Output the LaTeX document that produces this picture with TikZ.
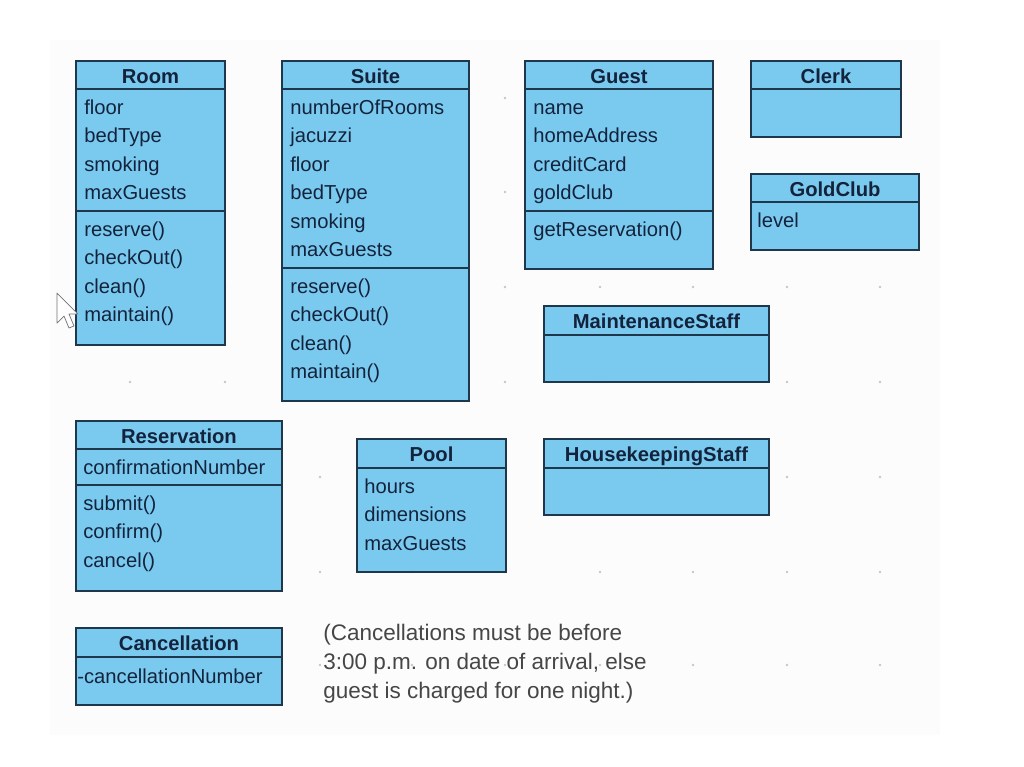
\documentclass[tikz,border=0pt]{standalone}
\usepackage{fontspec}
\setmainfont{Liberation Sans}
\begin{document}
\begin{tikzpicture}[x=0.2mm,y=-0.2mm]
			\definecolor{clsfill}{RGB}{122, 202, 240}
			\definecolor{clsline}{RGB}{30, 55, 75}
			\definecolor{clstext}{RGB}{20, 35, 60}
			\definecolor{notetext}{RGB}{70, 70, 70}
			\tikzset{
				cls/.style={draw=clsline, fill=clsfill, line width=1.1pt},
				sep/.style={draw=clsline, line width=1.1pt},
				ttl/.style={anchor=base, inner sep=0pt, text=clstext, font=\fontsize{11.5}{14}\selectfont\bfseries},
				item/.style={anchor=base west, inner sep=0pt, text=clstext, font=\fontsize{11.5}{14}\selectfont},
			}
			\useasboundingbox (0,0) rectangle (1024,767);
			\fill[black!1] (50,40) rectangle (940,735);
			% grid dots
			\foreach \gx in {130,225,320,412,505,600,693,787,880}
				\foreach \gy in {98,192,287,382,477,572,665}
					\fill[black!22] (\gx,\gy) circle (1.3);
			% Room
			\draw[cls] (76,61) rectangle (225,345);
			\draw[sep] (76,89) -- (225,89);
			\draw[sep] (76,211) -- (225,211);
			\node[ttl] (room) at (150.5,83) {Room};
			\foreach \t [count=\i from 0] in {floor,bedType,smoking,maxGuests}
				\node[item] (room-a\i) at (84,{114+28.5*\i}) {\t};
			\foreach \t [count=\i from 0] in {reserve(),checkOut(),clean(),maintain()}
				\node[item] (room-o\i) at (84,{236+28.5*\i}) {\t};
			% Suite
			\draw[cls] (282,61) rectangle (469,401);
			\draw[sep] (282,89) -- (469,89);
			\draw[sep] (282,268) -- (469,268);
			\node[ttl] (suite) at (375.5,83) {Suite};
			\foreach \t [count=\i from 0] in {numberOfRooms,jacuzzi,floor,bedType,smoking,maxGuests}
				\node[item] (suite-a\i) at (290,{114+28.5*\i}) {\t};
			\foreach \t [count=\i from 0] in {reserve(),checkOut(),clean(),maintain()}
				\node[item] (suite-o\i) at (290,{293+28.5*\i}) {\t};
			% Guest
			\draw[cls] (525,61) rectangle (713,269);
			\draw[sep] (525,89) -- (713,89);
			\draw[sep] (525,211) -- (713,211);
			\node[ttl] (guest) at (619,83) {Guest};
			\foreach \t [count=\i from 0] in {name,homeAddress,creditCard,goldClub}
				\node[item] (guest-a\i) at (533,{114+28.5*\i}) {\t};
			\node[item] (guest-o0) at (533,236) {getReservation()};
			% Clerk
			\draw[cls] (751,61) rectangle (901,137);
			\draw[sep] (751,89) -- (901,89);
			\node[ttl] (clerk) at (826,83) {Clerk};
			% GoldClub
			\draw[cls] (751,174) rectangle (919,250);
			\draw[sep] (751,202) -- (919,202);
			\node[ttl] (goldclub) at (835,196) {GoldClub};
			\node[item] (goldclub-a0) at (757,227) {level};
			% MaintenanceStaff
			\draw[cls] (544,306) rectangle (769,382);
			\draw[sep] (544,335) -- (769,335);
			\node[ttl] (maint) at (656.5,328) {MaintenanceStaff};
			% Reservation
			\draw[cls] (76,421) rectangle (282,591);
			\draw[sep] (76,449) -- (282,449);
			\draw[sep] (76,485) -- (282,485);
			\node[ttl] (reservation) at (179,443) {Reservation};
			\node[item] (reservation-a0) at (83,474) {confirmationNumber};
			\foreach \t [count=\i from 0] in {submit(),confirm(),cancel()}
				\node[item] (reservation-o\i) at (83,{510+28.5*\i}) {\t};
			% Pool
			\draw[cls] (357,439) rectangle (506,572);
			\draw[sep] (357,468) -- (506,468);
			\node[ttl] (pool) at (431.5,461) {Pool};
			\foreach \t [count=\i from 0] in {hours,dimensions,maxGuests}
				\node[item] (pool-a\i) at (364,{493+28.5*\i}) {\t};
			% HousekeepingStaff
			\draw[cls] (544,439) rectangle (769,515);
			\draw[sep] (544,468) -- (769,468);
			\node[ttl] (housekeeping) at (656.5,461) {HousekeepingStaff};
			% Cancellation
			\draw[cls] (76,628) rectangle (282,705);
			\draw[sep] (76,657) -- (282,657);
			\node[ttl] (cancellation) at (179,650) {Cancellation};
			\node[item] (cancellation-a0) at (77,683) {-cancellationNumber};
			% note
			\node[anchor=north west, inner sep=0pt, align=left, text=notetext, font=\fontsize{12.8}{16.4}\selectfont] (note) at (323,624)
				{(Cancellations must be before\\3:00 p.m. on date of arrival, else\\guest is charged for one night.)};
			% mouse pointer
			\draw[black!55, fill=white, line join=round, shift={(57,293)}]
				(0,0) -- (0,30) -- (7,23) -- (12,35) -- (17,33) -- (12,21) -- (21,21) -- cycle;
		\end{tikzpicture}
\end{document}
